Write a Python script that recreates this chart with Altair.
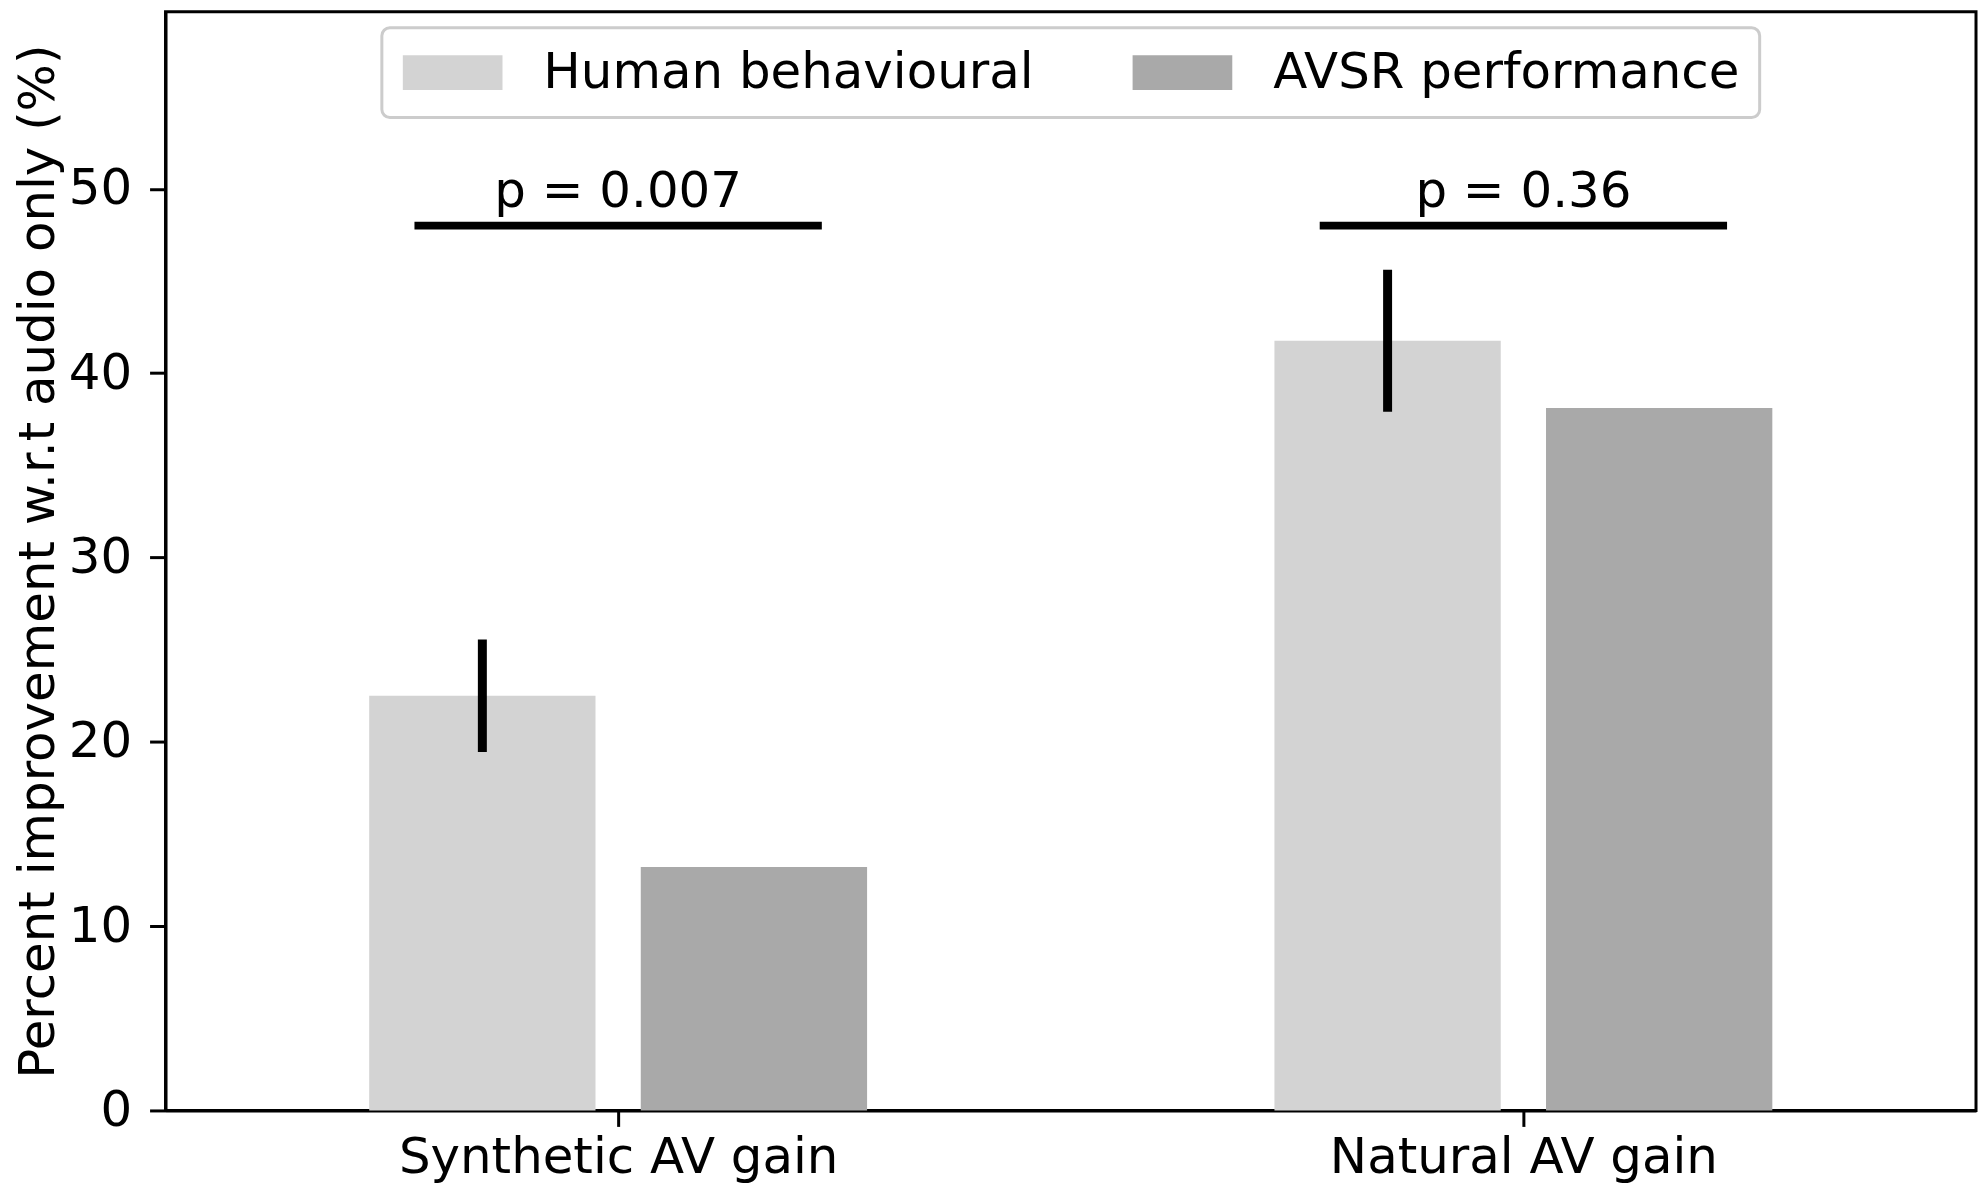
import json
import altair as alt
import pandas as pd

# ---- data ----
categories = ["Synthetic AV gain", "Natural AV gain"]
series = ["Human behavioural", "AVSR performance"]
human_values = [22.5, 41.75]
human_errors = [3.05, 3.85]
avsr_values = [13.2, 38.1]
p_labels = ["p = 0.007", "p = 0.36"]
sig_level = [48.0, 48.0]
y_ticks = [0, 10, 20, 30, 40, 50]
colors = ["#d3d3d3", "#a9a9a9"]
y_title = "Percent improvement w.r.t audio only (%)"

# ---- layout constants (in category units) ----
BAR_HALF = 0.125
OFFSET = 0.15
SIG_HALF = 0.225
FONT = "DejaVu Sans"
FS = 50

rows = []
for i, c in enumerate(categories):
    rows.append(dict(category=c, idx=i, series=series[0], s=0, value=human_values[i]))
    rows.append(dict(category=c, idx=i, series=series[1], s=1, value=avsr_values[i]))
bars_df = pd.DataFrame(rows)

err_df = pd.DataFrame(dict(category=categories, idx=list(range(len(categories))),
                           value=human_values, err=human_errors))
sig_df = pd.DataFrame(dict(category=categories, idx=list(range(len(categories))),
                           label=p_labels, level=sig_level))

x_scale = alt.Scale(domain=[-0.5, len(categories) - 0.5], nice=False, zero=False)
y_scale = alt.Scale(domain=[0, 59.6], nice=False)

label_expr = json.dumps(categories) + "[datum.value]"

x_axis = alt.Axis(values=list(range(len(categories))), labelExpr=label_expr,
                  title="", labelFontSize=FS, labelPadding=6, tickSize=16,
                  labelLimit=1000, labelFlush=False, labelOverlap=False)
y_axis = alt.Axis(values=y_ticks, title=y_title, labelFontSize=FS, labelPadding=18,
                  tickSize=16, titleFontSize=FS, titleFontWeight="normal",
                  titlePadding=5, labelLimit=1000)

# legend swatch: 100 px wide, 35 px tall; symbol size 35^2 -> unit = 17.5 px
SW_PATH = "M-1.37,-1H4.343V1H-1.37Z"

bars = alt.Chart(bars_df).transform_calculate(
    ctr=f"datum.idx + (datum.s * 2 - 1) * {OFFSET}"
).transform_calculate(
    x0=f"datum.ctr - {BAR_HALF}", x1=f"datum.ctr + {BAR_HALF}"
).mark_bar(strokeWidth=0).encode(
    x=alt.X("x0:Q", scale=x_scale, axis=x_axis),
    x2="x1:Q",
    y=alt.Y("value:Q", scale=y_scale, axis=y_axis),
    y2=alt.datum(0),
    color=alt.Color("series:N", scale=alt.Scale(domain=series, range=colors),
                    legend=alt.Legend(
                        title=None, orient="none", legendX=217, legendY=16,
                        direction="horizontal", columns=2,
                        symbolType=SW_PATH, symbolSize=1225,
                        symbolStrokeWidth=0, symbolOpacity=1,
                        labelFont=FONT, labelFontSize=FS, labelColor="black",
                        labelOffset=92, labelLimit=1000, columnPadding=98,
                        padding=20, strokeColor="#cccccc", fillColor="white",
                        cornerRadius=8)),
)

errs = alt.Chart(err_df).transform_calculate(
    ctr=f"datum.idx - {OFFSET}", lo="datum.value - datum.err", hi="datum.value + datum.err"
).mark_rule(color="black", strokeWidth=9).encode(
    x=alt.X("ctr:Q", scale=x_scale, axis=x_axis),
    y=alt.Y("lo:Q", scale=y_scale, axis=y_axis),
    y2="hi:Q",
)

sig_lines = alt.Chart(sig_df).transform_calculate(
    a=f"datum.idx - {SIG_HALF}", b=f"datum.idx + {SIG_HALF}"
).mark_rule(color="black", strokeWidth=8).encode(
    x=alt.X("a:Q", scale=x_scale, axis=x_axis),
    x2="b:Q",
    y=alt.Y("level:Q", scale=y_scale, axis=y_axis),
)

sig_text = alt.Chart(sig_df).transform_calculate(
    ty="datum.level + 1"
).mark_text(font=FONT, fontSize=FS, color="black", align="center",
            baseline="alphabetic").encode(
    x=alt.X("idx:Q", scale=x_scale, axis=x_axis),
    y=alt.Y("ty:Q", scale=y_scale, axis=y_axis),
    text="label:N",
)

chart = alt.layer(bars, errs, sig_lines, sig_text).properties(
    width=1816, height=1102,
    autosize=alt.AutoSizeParams(type="none"),
    padding={"left": 158, "top": 2, "right": 2, "bottom": 76},
    background="white",
).configure_view(
    stroke="black", strokeWidth=3
).configure_axis(
    grid=False, domainColor="black", domainWidth=3, tickColor="black", tickWidth=3,
    labelColor="black", titleColor="black", labelFont=FONT, titleFont=FONT,
).configure_legend(
    strokeWidth=3
)

chart.save("out.html", embed_options={"renderer": "svg", "actions": False})
